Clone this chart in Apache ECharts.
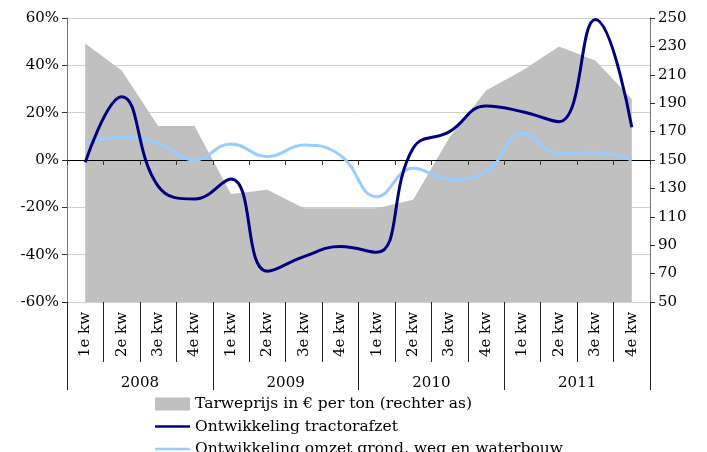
<!DOCTYPE html>
<html>
<head>
<meta charset="utf-8">
<script src="https://cdn.jsdelivr.net/npm/echarts@6/dist/echarts.min.js"></script>
<style>
  html, body { margin: 0; padding: 0; background: #fff; }
  #chart { width: 707px; height: 452px; }
</style>
</head>
<body>
<div id="chart"></div>
<script>
const quarters = ['1e kw', '2e kw', '3e kw', '4e kw',
    '1e kw', '2e kw', '3e kw', '4e kw',
    '1e kw', '2e kw', '3e kw', '4e kw',
    '1e kw', '2e kw', '3e kw', '4e kw'];
const years = ['2008', '2009', '2010', '2011'];

// tarweprijs, euro per ton (right axis)
const tarweprijs = [232, 213, 174, 174, 126, 129, 116, 116, 116, 122, 166, 199, 213, 230, 220, 193];
// percentages (left axis)
const tractorafzet = [-1, 26.7, -11, -16.5, -8, -47, -40.8, -36.6, -39, 5, 12, 22.8, 20.4, 16.2, 59.4, 13.8];
const grondWegWater = [7, 9.6, 7, 0, 6.8, 1.4, 6.3, 2, -15.5, -3.5, -8.2, -5, 11.3, 2.8, 3.1, 0];

const font = 'DejaVu Serif';
const myChart = echarts.init(document.getElementById('chart'));
myChart.setOption({
    animation: false,
    textStyle: { fontFamily: font, color: '#000' },
    grid: { left: 67, right: 57, top: 18, bottom: 150 },
    xAxis: [
        {
            type: 'category',
            data: quarters,
            z: 3,
            axisLine: { show: true, onZero: true, onZeroAxisIndex: 0, lineStyle: { color: '#000', width: 1 } },
            axisTick: { show: true, length: 5, interval: 0, lineStyle: { color: '#333' } },
            axisLabel: { show: false }
        },
        {
            type: 'category',
            data: quarters,
            position: 'bottom',
            axisLine: { show: false, onZero: false },
            axisTick: { show: true, length: 60, interval: 0, lineStyle: { color: '#222' } },
            axisLabel: { interval: 0, rotate: 90, margin: 10, fontSize: 15, fontFamily: font, color: '#000' }
        },
        {
            type: 'category',
            data: years,
            position: 'bottom',
            axisLine: { show: false, onZero: false },
            axisTick: { show: true, length: 88, interval: 0, lineStyle: { color: '#222' } },
            axisLabel: { interval: 0, margin: 74, fontSize: 15, fontFamily: font, color: '#000' }
        }
    ],
    yAxis: [
        {
            type: 'value',
            min: -60,
            max: 60,
            interval: 20,
            axisLine: { show: true, lineStyle: { color: '#777' } },
            axisTick: { show: true, length: 5, lineStyle: { color: '#333' } },
            axisLabel: { formatter: '{value}%', fontSize: 15, fontFamily: font, color: '#000', margin: 8 },
            splitLine: { lineStyle: { color: '#d0d0d0' } }
        },
        {
            type: 'value',
            min: 50,
            max: 250,
            interval: 20,
            position: 'right',
            axisLine: { show: true, lineStyle: { color: '#777' } },
            axisTick: { show: true, length: 5, lineStyle: { color: '#333' } },
            axisLabel: { fontSize: 15, fontFamily: font, color: '#000', margin: 8 },
            splitLine: { show: false }
        }
    ],
    legend: {
        orient: 'vertical',
        left: 155,
        top: 396,
        height: 90,
        itemWidth: 35,
        itemHeight: 13,
        itemGap: 6.5,
        padding: 0,
        textStyle: { fontSize: 15.5, fontFamily: font, color: '#000' },
        data: [
            { name: 'Tarweprijs in € per ton (rechter as)', icon: 'rect' },
            { name: 'Ontwikkeling tractorafzet', icon: 'path://M0,0 H40 V3 H0 Z' },
            { name: 'Ontwikkeling omzet grond, weg en waterbouw', icon: 'path://M0,0 H40 V3 H0 Z' }
        ]
    },
    series: [
        {
            name: 'Tarweprijs in € per ton (rechter as)',
            type: 'line',
            yAxisIndex: 1,
            data: tarweprijs,
            symbol: 'none',
            z: 1,
            lineStyle: { width: 0 },
            itemStyle: { color: '#c0c0c0' },
            areaStyle: { color: '#c0c0c0', opacity: 1, origin: 'start' }
        },
        {
            name: 'Ontwikkeling tractorafzet',
            type: 'line',
            data: tractorafzet,
            smooth: 0.45,
            symbol: 'none',
            z: 5,
            itemStyle: { color: '#000080' },
            lineStyle: { color: '#000080', width: 3 }
        },
        {
            name: 'Ontwikkeling omzet grond, weg en waterbouw',
            type: 'line',
            data: grondWegWater,
            smooth: 0.45,
            symbol: 'none',
            z: 4,
            itemStyle: { color: '#99ccff' },
            lineStyle: { color: '#99ccff', width: 3 }
        }
    ]
});
</script>
</body>
</html>
